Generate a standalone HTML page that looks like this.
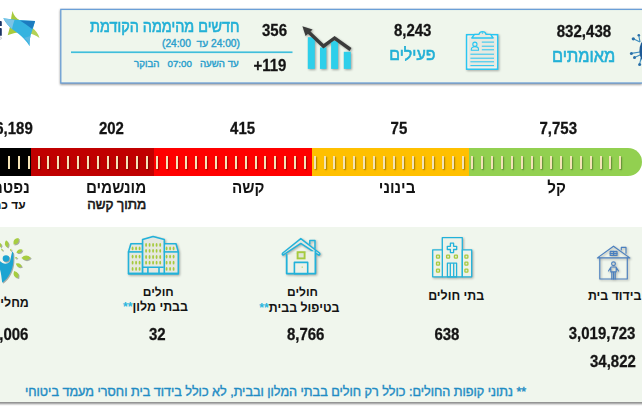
<!DOCTYPE html>
<html lang="he">
<head>
<meta charset="utf-8">
<style>
html,body{margin:0;padding:0;}
body{width:642px;height:410px;overflow:hidden;background:#fff;position:relative;font-family:"Liberation Sans",sans-serif;}
.t{position:absolute;white-space:nowrap;line-height:1;}
.a{position:absolute;}
#panel{position:absolute;left:-10px;top:227px;width:670px;height:175px;background:#f0f6ed;box-shadow:0 2.5px 2px -0.5px rgba(0,0,0,.45);}
.seg{position:absolute;top:147.5px;height:28.5px;}
.tk{position:absolute;top:156px;width:2px;height:13px;background:#f3e3b6;box-shadow:1px 1px 1.5px rgba(0,0,0,.35);}
</style>
</head>
<body>
<!--LOGO-->
<svg class="a" style="left:0;top:0" width="44" height="50" viewBox="0 0 44 50">
  <path d="M0,20.9 h0.8 a1,1 0 0 1 1,1 v4.2 h-1.8 z" fill="#1b3565"/>
  <path d="M0,28.1 h0.8 a1,1 0 0 1 1,1 v6.7 h-1.8 z" fill="#1b3565"/>
  <ellipse cx="0.6" cy="38.2" rx="0.9" ry="1.1" fill="none" stroke="#9aa4b0" stroke-width="0.5"/>
  <path d="M12.6,11 C13.5,15 16,18.5 20.3,20.6 L17.6,32.4 C14,33 10,34 7.7,35.2 C9,31 10.5,25 11,20 C11.3,16 12,13 12.6,11 Z" fill="#a8ca3c"/>
  <path d="M32,27.5 C35.5,30 38.5,34 39.5,37.9 C36,35.5 32.5,34 29.5,33.5 Z" fill="#b4d256"/>
  <path d="M3.3,18.2 C14,19.6 25,20.6 35.1,20.9 C33.5,27 31.5,33 30.5,36 C29.8,39 29.6,42 29.6,46.2 C26.5,41 22,36 14,30.5 C9,27 5.5,22.5 3.3,18.2 Z" fill="#35b3e0"/>
  <path d="M3.3,18.2 C6,18.8 10,19.3 14.5,19.9 C13.5,23 12.5,26 12,29 C8,25.5 5,21.5 3.3,18.2 Z" fill="#7cc4e6"/>
  <path d="M20,20.6 L35.1,20.9 C34,24.5 33,27 32.2,29 C28,26 24,23 20,20.6 Z" fill="#1c7cc0"/>
  <path d="M24,38 C27,40 29,42 29.6,46.2 C29.4,42 29.8,39 30.5,36 Z" fill="#5bb8e2"/>
</svg>

<svg class="a" style="left:0;top:0;filter:drop-shadow(0.6px 1.8px 0.9px rgba(0,0,0,.45))" width="642" height="95" viewBox="0 0 642 95"><rect x="60.8" y="9.4" width="640" height="73.6" fill="#eff6ec" stroke="#6a9fd8" stroke-width="1.3"/></svg>
<svg class="a" style="left:0;top:0" width="300" height="60"><rect x="71" y="51.4" width="221.5" height="1.7" fill="#40bedb"/></svg>

<!--CHART-->
<svg class="a" style="left:295px;top:15px;filter:drop-shadow(1.2px 1.5px 0.8px rgba(0,0,0,.35))" width="65" height="65" viewBox="295 15 65 65">
  <g fill="#2ecfea">
    <rect x="307.8" y="37.2" width="7" height="31.7"/>
    <rect x="320" y="47.5" width="6.4" height="21.4"/>
    <rect x="331.1" y="41.1" width="7" height="27.8"/>
    <rect x="343.8" y="51.8" width="7" height="17.1"/>
  </g>
  <polyline points="307,30.5 323.5,46.2 334.6,38 350.5,49.5" fill="none" stroke="#3b3b3b" stroke-width="3.4" stroke-linejoin="miter"/>
  <polygon points="302.4,26.2 312.6,29.6 305.6,36" fill="#3b3b3b"/>
</svg>

<!--CLIP-->
<svg class="a" style="left:455px;top:20px;filter:drop-shadow(1px 1.5px 0.8px rgba(0,0,0,.3))" width="55" height="55" viewBox="455 20 55 55">
  <rect x="466.6" y="34.7" width="31" height="34.5" fill="#e7e9e0" stroke="#27c6f2" stroke-width="1.5"/>
  <rect x="468" y="36.1" width="28.2" height="31.7" fill="none" stroke="#ffffff" stroke-opacity=".7" stroke-width="0.8"/>
  <path d="M471.8,38 L474.5,34.3 H479 A3.6,3.6 0 0 1 486,34.3 H490.5 L493.2,38 Z" fill="#e7e9e0" stroke="#27c6f2" stroke-width="1.3" stroke-linejoin="round"/>
  <circle cx="482.5" cy="33" r="0.8" fill="#27c6f2"/>
  <circle cx="474.9" cy="44.2" r="2.1" fill="none" stroke="#27c6f2" stroke-width="1.1"/>
  <path d="M471.3,50.2 V49.2 a3.6,2.6 0 0 1 7.2,0 V50.2 Z" fill="none" stroke="#27c6f2" stroke-width="1.1"/>
  <g stroke="#27c6f2" stroke-width="1">
    <line x1="481.8" y1="42.1" x2="494" y2="42.1"/>
    <line x1="481.8" y1="46.2" x2="494" y2="46.2"/>
    <line x1="481.8" y1="49.8" x2="494" y2="49.8"/>
    <line x1="470.4" y1="54.2" x2="494" y2="54.2"/>
    <line x1="470.4" y1="58.2" x2="494" y2="58.2"/>
    <line x1="470.4" y1="61.8" x2="494" y2="61.8"/>
    <line x1="470.4" y1="65.6" x2="494" y2="65.6"/>
  </g>
</svg>

<!--VIRUS-->
<svg class="a" style="left:625px;top:28px" width="17" height="40" viewBox="625 28 17 40">
  <g stroke="#3a8cc0" stroke-width="1.1">
    <line x1="633.3" y1="38.8" x2="640" y2="42"/>
    <line x1="638.8" y1="35.3" x2="640" y2="42"/>
    <line x1="631.4" y1="53.4" x2="640" y2="52"/>
    <line x1="634.5" y1="57.5" x2="640" y2="55"/>
    <line x1="639.6" y1="64.4" x2="641" y2="58"/>
  </g>
  <g fill="#2a6fa8">
    <circle cx="633.3" cy="38.8" r="1.6"/>
    <circle cx="638.8" cy="35.3" r="1.3"/>
    <circle cx="631.4" cy="53.4" r="1.5"/>
    <circle cx="634.5" cy="57.5" r="1.5"/>
    <circle cx="639.6" cy="64.4" r="1.5"/>
    <ellipse cx="645.2" cy="51" rx="5.8" ry="11" fill="#1e5a96"/>
  </g>
</svg>

<!--BAR-->
<div class="seg" style="left:0;width:31px;background:#000;"></div>
<div class="seg" style="left:31px;width:123px;background:#c00000;"></div>
<div class="seg" style="left:154px;width:158px;background:#ff0000;"></div>
<div class="seg" style="left:312px;width:157px;background:#ffc000;"></div>
<div class="seg" style="left:469px;width:173px;background:#92d050;border-radius:0 14.5px 14.5px 0;"></div>
<div class="tk" style="left:8.0px"></div><div class="tk" style="left:17.9px"></div><div class="tk" style="left:27.7px"></div><div class="tk" style="left:37.6px"></div><div class="tk" style="left:47.4px"></div><div class="tk" style="left:57.3px"></div><div class="tk" style="left:67.1px"></div><div class="tk" style="left:77.0px"></div><div class="tk" style="left:86.9px"></div><div class="tk" style="left:96.7px"></div><div class="tk" style="left:106.6px"></div><div class="tk" style="left:116.4px"></div><div class="tk" style="left:126.3px"></div><div class="tk" style="left:136.2px"></div><div class="tk" style="left:146.0px"></div><div class="tk" style="left:155.9px"></div><div class="tk" style="left:165.7px"></div><div class="tk" style="left:175.6px"></div><div class="tk" style="left:185.4px"></div><div class="tk" style="left:195.3px"></div><div class="tk" style="left:205.2px"></div><div class="tk" style="left:215.0px"></div><div class="tk" style="left:224.9px"></div><div class="tk" style="left:234.7px"></div><div class="tk" style="left:244.6px"></div><div class="tk" style="left:254.5px"></div><div class="tk" style="left:264.3px"></div><div class="tk" style="left:274.2px"></div><div class="tk" style="left:284.0px"></div><div class="tk" style="left:293.9px"></div><div class="tk" style="left:303.7px"></div><div class="tk" style="left:313.6px"></div><div class="tk" style="left:323.5px"></div><div class="tk" style="left:333.3px"></div><div class="tk" style="left:343.2px"></div><div class="tk" style="left:353.0px"></div><div class="tk" style="left:362.9px"></div><div class="tk" style="left:372.7px"></div><div class="tk" style="left:382.6px"></div><div class="tk" style="left:392.5px"></div><div class="tk" style="left:402.3px"></div><div class="tk" style="left:412.2px"></div><div class="tk" style="left:422.0px"></div><div class="tk" style="left:431.9px"></div><div class="tk" style="left:441.8px"></div><div class="tk" style="left:451.6px"></div><div class="tk" style="left:461.5px"></div><div class="tk" style="left:471.3px"></div><div class="tk" style="left:481.2px"></div><div class="tk" style="left:491.0px"></div><div class="tk" style="left:500.9px"></div><div class="tk" style="left:510.8px"></div><div class="tk" style="left:520.6px"></div><div class="tk" style="left:530.5px"></div><div class="tk" style="left:540.3px"></div><div class="tk" style="left:550.2px"></div><div class="tk" style="left:560.0px"></div><div class="tk" style="left:569.9px"></div><div class="tk" style="left:579.8px"></div><div class="tk" style="left:589.6px"></div><div class="tk" style="left:599.5px"></div><div class="tk" style="left:609.3px"></div><div class="tk" style="left:619.2px"></div>

<div id="panel"></div>

<!--RECOVERED-->
<svg class="a" style="left:0;top:234px;filter:drop-shadow(1px 1.3px 0.7px rgba(0,0,0,.3))" width="40" height="56" viewBox="0 234 40 56">
  <g fill="#a6cd40"><path transform="translate(16.1 241.2) rotate(38)" d="M0,-4.1 Q4.6,0 0,4.1 Q-4.6,0 0,-4.1 Z"/><path transform="translate(6.7 243.8) rotate(-10)" d="M0,-3.7 Q3.8,0 0,3.7 Q-3.8,0 0,-3.7 Z"/><path transform="translate(19.4 251.1) rotate(62)" d="M0,-3.4 Q3.5,0 0,3.4 Q-3.5,0 0,-3.4 Z"/><path transform="translate(26.1 257.9) rotate(88)" d="M0,-4.7 Q4.6,0 0,4.7 Q-4.6,0 0,-4.7 Z"/><path transform="translate(18.8 265.2) rotate(118)" d="M0,-3.4 Q3.7,0 0,3.4 Q-3.7,0 0,-3.4 Z"/><path transform="translate(16.1 274.5) rotate(150)" d="M0,-4.1 Q4.6,0 0,4.1 Q-4.6,0 0,-4.1 Z"/><path transform="translate(2 249.8) rotate(-40)" d="M0,-1.3 Q1.6,0 0,1.3 Q-1.6,0 0,-1.3 Z"/><path transform="translate(10.7 249.8) rotate(30)" d="M0,-1.3 Q1.6,0 0,1.3 Q-1.6,0 0,-1.3 Z"/><path transform="translate(16.1 257.8) rotate(80)" d="M0,-1.3 Q1.6,0 0,1.3 Q-1.6,0 0,-1.3 Z"/><path transform="translate(0.2 245.5) rotate(10)" d="M0,-2.5 Q2.4,0 0,2.5 Q-2.4,0 0,-2.5 Z"/>
  </g>
  <circle cx="6" cy="258.5" r="3.3" fill="#1ba4d2"/>
  <path d="M12.2,251.6 C13.8,252 13.6,258 13.3,262 C12.6,270 9,278 2.2,282.8 C1.5,278 1.2,273 0,269.5 L0,261 C3,264.5 7,264.5 9.8,261.8 C10.8,259 11.2,255 12.2,251.6 Z" fill="#1ba4d2"/>
</svg>

<!--HOTEL-->
<svg class="a" style="left:120px;top:230px;filter:drop-shadow(1px 1.5px 0.8px rgba(0,0,0,.3))" width="70" height="50" viewBox="120 230 70 50">
  <g fill="#e6e8e0" stroke="#22b2da" stroke-width="1.6" stroke-linejoin="round">
    <path d="M130.9,243.7 H142.6 V273.6 H128.5 V251.9 Z"/>
    <path d="M176,243.7 H163.7 V273.6 H178.3 V251.9 Z"/>
    <path d="M142.6,273.6 V239.6 L153.1,236.5 L164.3,239.6 V273.6 Z"/>
    <line x1="127.9" y1="251.9" x2="142.6" y2="251.9"/>
    <line x1="163.7" y1="251.9" x2="178.9" y2="251.9"/>
    <line x1="127.9" y1="273.6" x2="178.9" y2="273.6"/>
    <path d="M142.6,267.2 H163.7 M147.9,267.2 V273.6 M159,267.2 V273.6" fill="none"/>
  </g>
  <g fill="#a6ca3e"><ellipse cx="146.1" cy="244.9" rx="0.95" ry="1.9"/><ellipse cx="146.1" cy="250.8" rx="0.95" ry="1.9"/><ellipse cx="146.1" cy="257.0" rx="0.95" ry="1.9"/><ellipse cx="146.1" cy="262.7" rx="0.95" ry="1.9"/><ellipse cx="149.6" cy="244.9" rx="0.95" ry="1.9"/><ellipse cx="149.6" cy="250.8" rx="0.95" ry="1.9"/><ellipse cx="149.6" cy="257.0" rx="0.95" ry="1.9"/><ellipse cx="149.6" cy="262.7" rx="0.95" ry="1.9"/><ellipse cx="153.1" cy="244.9" rx="0.95" ry="1.9"/><ellipse cx="153.1" cy="250.8" rx="0.95" ry="1.9"/><ellipse cx="153.1" cy="257.0" rx="0.95" ry="1.9"/><ellipse cx="153.1" cy="262.7" rx="0.95" ry="1.9"/><ellipse cx="156.6" cy="244.9" rx="0.95" ry="1.9"/><ellipse cx="156.6" cy="250.8" rx="0.95" ry="1.9"/><ellipse cx="156.6" cy="257.0" rx="0.95" ry="1.9"/><ellipse cx="156.6" cy="262.7" rx="0.95" ry="1.9"/><ellipse cx="160.2" cy="244.9" rx="0.95" ry="1.9"/><ellipse cx="160.2" cy="250.8" rx="0.95" ry="1.9"/><ellipse cx="160.2" cy="257.0" rx="0.95" ry="1.9"/><ellipse cx="160.2" cy="262.7" rx="0.95" ry="1.9"/><ellipse cx="132.6" cy="248.4" rx="0.95" ry="1.9"/><ellipse cx="132.6" cy="256.6" rx="0.95" ry="1.9"/><ellipse cx="132.6" cy="262.7" rx="0.95" ry="1.9"/><ellipse cx="132.6" cy="268.9" rx="0.95" ry="1.9"/><ellipse cx="136.1" cy="248.4" rx="0.95" ry="1.9"/><ellipse cx="136.1" cy="256.6" rx="0.95" ry="1.9"/><ellipse cx="136.1" cy="262.7" rx="0.95" ry="1.9"/><ellipse cx="136.1" cy="268.9" rx="0.95" ry="1.9"/><ellipse cx="139.6" cy="248.4" rx="0.95" ry="1.9"/><ellipse cx="139.6" cy="256.6" rx="0.95" ry="1.9"/><ellipse cx="139.6" cy="262.7" rx="0.95" ry="1.9"/><ellipse cx="139.6" cy="268.9" rx="0.95" ry="1.9"/><ellipse cx="166.6" cy="248.4" rx="0.95" ry="1.9"/><ellipse cx="166.6" cy="256.6" rx="0.95" ry="1.9"/><ellipse cx="166.6" cy="262.7" rx="0.95" ry="1.9"/><ellipse cx="166.6" cy="268.9" rx="0.95" ry="1.9"/><ellipse cx="170.1" cy="248.4" rx="0.95" ry="1.9"/><ellipse cx="170.1" cy="256.6" rx="0.95" ry="1.9"/><ellipse cx="170.1" cy="262.7" rx="0.95" ry="1.9"/><ellipse cx="170.1" cy="268.9" rx="0.95" ry="1.9"/><ellipse cx="173.6" cy="248.4" rx="0.95" ry="1.9"/><ellipse cx="173.6" cy="256.6" rx="0.95" ry="1.9"/><ellipse cx="173.6" cy="262.7" rx="0.95" ry="1.9"/><ellipse cx="173.6" cy="268.9" rx="0.95" ry="1.9"/></g>
</svg>

<!--HOME-->
<svg class="a" style="left:275px;top:232px;filter:drop-shadow(1px 1.5px 0.8px rgba(0,0,0,.3))" width="50" height="48" viewBox="275 232 50 48">
  <g fill="none" stroke="#22b2da" stroke-linejoin="round" stroke-linecap="round">
    <path d="M282.8,253 L300.8,238.6 L319.4,253 Q320.5,254.5 318.8,255.2 L300.8,243.4 L283,255.2 Q281.6,254.4 282.8,253 Z" stroke-width="1.5" fill="#e6e8e0"/>
    <path d="M309.8,244 V240.4 H315 V248.2" stroke-width="1.5"/>
    <path d="M286.7,255 V273.6 H315.4 V251" stroke-width="1.8" fill="#eef2e8"/>
    <rect x="294.4" y="262.4" width="13.3" height="11.2" stroke-width="1.6" fill="#eef2e8"/>
  </g>
  <rect x="297.6" y="252.2" width="7" height="6.2" fill="#e0e6d8" stroke="#a6ca3e" stroke-width="1.9"/>
  <circle cx="302.2" cy="267.1" r="0.7" fill="#a6ca3e"/>
</svg>

<!--HOSPITAL-->
<svg class="a" style="left:428px;top:232px;filter:drop-shadow(1px 1.5px 0.8px rgba(0,0,0,.3))" width="50" height="48" viewBox="428 232 50 48">
  <g fill="none" stroke="#22b2da" stroke-width="1.3" stroke-linejoin="round">
    <rect x="442.3" y="237.6" width="20" height="39.2" fill="#eef2e8"/>
    <rect x="432.7" y="249.8" width="9.6" height="27" fill="#eef2e8"/>
    <rect x="462.3" y="249.8" width="9.4" height="27" fill="#eef2e8"/>
    <path d="M450.4,243.2 h3.2 v3.1 h3.1 v3.2 h-3.1 v3.1 h-3.2 v-3.1 h-3.1 v-3.2 h3.1 z"/>
    <rect x="447.4" y="263.2" width="9.2" height="13.6"/>
    <path d="M450.3,263.2 V276.8 M453.7,263.2 V276.8"/>
  </g>
  <g fill="#e4ead8" stroke="#a6ca3e" stroke-width="1.3"><rect x="436.5" y="255.1" width="3" height="3" rx="0.7"/><rect x="436.5" y="262.1" width="3" height="3" rx="0.7"/><rect x="436.5" y="269.1" width="3" height="3" rx="0.7"/><rect x="464.9" y="255.1" width="3" height="3" rx="0.7"/><rect x="464.9" y="262.1" width="3" height="3" rx="0.7"/><rect x="464.9" y="269.1" width="3" height="3" rx="0.7"/><rect x="446.6" y="255.1" width="3" height="3" rx="0.7"/><rect x="454.4" y="255.1" width="3" height="3" rx="0.7"/></g>
</svg>

<!--ISOLATION-->
<svg class="a" style="left:590px;top:240px;filter:drop-shadow(1px 1.5px 0.8px rgba(0,0,0,.3))" width="44" height="44" viewBox="590 240 44 44">
  <g fill="none" stroke="#4a7fbf" stroke-width="1.15" stroke-linejoin="round" stroke-linecap="round">
    <path d="M597.4,257.9 L613.5,246.2 L629.8,257.9 Z"/>
    <path d="M621.3,249.8 V247.4 H626 V253.2"/>
    <rect x="610.2" y="251.4" width="6.8" height="4" />
    <path d="M613.6,251.4 V255.4 M610.2,253.4 H617"/>
    <path d="M599.8,257.9 V279 H627.3 V257.9"/>
    <circle cx="613.5" cy="263.8" r="1.9"/>
    <path d="M611,267 H616 L618.5,271 M611,267 L608.5,271 M610.8,267.2 V271.8 H616.2 V267.2 M611.8,271.8 V279 M615.2,271.8 V279 M613.5,272 V279"/>
  </g>
</svg>

<div class="t" style="left:90.0px;top:17.6px;font-size:14.42px;font-weight:normal;color:#22b0d6;direction:rtl;transform:scaleY(1.15);transform-origin:0 0;-webkit-text-stroke:0.55px #22b0d6;">חדשים מהיממה הקודמת</div>
<div class="t" style="left:162.0px;top:38.5px;font-size:10.20px;font-weight:normal;color:#2a9fcc;direction:ltr;-webkit-text-stroke:0.4px #2a9fcc;">(24:00&nbsp; <span dir="rtl">עד</span> 24:00)</div>
<div class="t" style="left:134.0px;top:59.0px;font-size:9.73px;font-weight:normal;color:#2a9fcc;direction:rtl;-webkit-text-stroke:0.4px #2a9fcc;">עד השעה&nbsp;&nbsp; 07:00&nbsp;&nbsp; הבוקר</div>
<div class="t" style="left:262.0px;top:21.7px;font-size:15.00px;font-weight:bold;color:#141414;direction:ltr;transform:scaleY(1.06);transform-origin:0 0;-webkit-text-stroke:0.25px #141414;">356</div>
<div class="t" style="left:253.4px;top:56.9px;font-size:15.00px;font-weight:bold;color:#141414;direction:ltr;transform:scaleY(1.06);transform-origin:0 0;-webkit-text-stroke:0.25px #141414;">+119</div>
<div class="t" style="left:393.9px;top:22.3px;font-size:15.00px;font-weight:bold;color:#141414;direction:ltr;transform:scaleY(1.06);transform-origin:0 0;-webkit-text-stroke:0.25px #141414;">8,243</div>
<div class="t" style="left:389.3px;top:46.1px;font-size:15.89px;font-weight:normal;color:#22b0d6;direction:rtl;transform:scaleY(1.08);transform-origin:0 0;-webkit-text-stroke:0.55px #22b0d6;">פעילים</div>
<div class="t" style="left:556.7px;top:23.4px;font-size:15.10px;font-weight:bold;color:#141414;direction:ltr;transform:scaleY(1.06);transform-origin:0 0;-webkit-text-stroke:0.25px #141414;">832,438</div>
<div class="t" style="left:552.0px;top:45.6px;font-size:16.38px;font-weight:normal;color:#22b0d6;direction:rtl;transform:scaleY(1.16);transform-origin:0 0;-webkit-text-stroke:0.55px #22b0d6;">מאומתים</div>
<div class="t" style="left:-4.8px;top:120.3px;font-size:15.00px;font-weight:bold;color:#141414;direction:ltr;transform:scaleY(1.1);transform-origin:0 0;-webkit-text-stroke:0.25px #141414;">6,189</div>
<div class="t" style="left:98.9px;top:120.3px;font-size:15.00px;font-weight:bold;color:#141414;direction:ltr;transform:scaleY(1.1);transform-origin:0 0;-webkit-text-stroke:0.25px #141414;">202</div>
<div class="t" style="left:230.1px;top:120.4px;font-size:15.00px;font-weight:bold;color:#141414;direction:ltr;transform:scaleY(1.1);transform-origin:0 0;-webkit-text-stroke:0.25px #141414;">415</div>
<div class="t" style="left:390.6px;top:120.4px;font-size:15.00px;font-weight:bold;color:#141414;direction:ltr;transform:scaleY(1.1);transform-origin:0 0;-webkit-text-stroke:0.25px #141414;">75</div>
<div class="t" style="left:539.5px;top:120.4px;font-size:15.00px;font-weight:bold;color:#141414;direction:ltr;transform:scaleY(1.1);transform-origin:0 0;-webkit-text-stroke:0.25px #141414;">7,753</div>
<div class="t" style="left:-21.2px;top:179.0px;font-size:15.20px;font-weight:bold;color:#141414;direction:rtl;transform:scaleY(1.1);transform-origin:0 0;">נפטרים</div>
<div class="t" style="left:-6.8px;top:199.3px;font-size:12.00px;font-weight:bold;color:#141414;direction:rtl;">עד כה</div>
<div class="t" style="left:85.9px;top:179.0px;font-size:15.20px;font-weight:bold;color:#141414;direction:rtl;transform:scaleY(1.1);transform-origin:0 0;">מונשמים</div>
<div class="t" style="left:87.2px;top:197.5px;font-size:13.40px;font-weight:normal;color:#141414;direction:rtl;-webkit-text-stroke:0.55px #141414;">מתוך קשה</div>
<div class="t" style="left:232.1px;top:179.0px;font-size:15.20px;font-weight:bold;color:#141414;direction:rtl;transform:scaleY(1.1);transform-origin:0 0;">קשה</div>
<div class="t" style="left:378.8px;top:179.0px;font-size:15.20px;font-weight:bold;color:#141414;direction:rtl;transform:scaleY(1.1);transform-origin:0 0;">בינוני</div>
<div class="t" style="left:547.3px;top:179.0px;font-size:15.20px;font-weight:bold;color:#141414;direction:rtl;transform:scaleY(1.1);transform-origin:0 0;">קל</div>
<div class="t" style="left:-20.8px;top:297.0px;font-size:12.40px;font-weight:bold;color:#141414;direction:rtl;">מחלימים</div>
<div class="t" style="left:-9.1px;top:325.8px;font-size:15.00px;font-weight:bold;color:#141414;direction:ltr;transform:scaleY(1.08);transform-origin:0 0;-webkit-text-stroke:0.25px #141414;">6,006</div>
<div class="t" style="left:142.8px;top:285.8px;font-size:12.00px;font-weight:bold;color:#141414;direction:rtl;">חולים</div>
<div class="t" style="left:122.9px;top:300.8px;font-size:12.40px;font-weight:bold;color:#141414;direction:rtl;">בבתי מלון<span style="color:#2bb5dd">**</span></div>
<div class="t" style="left:149.0px;top:325.8px;font-size:15.00px;font-weight:bold;color:#141414;direction:ltr;transform:scaleY(1.08);transform-origin:0 0;-webkit-text-stroke:0.25px #141414;">32</div>
<div class="t" style="left:287.0px;top:285.7px;font-size:12.00px;font-weight:bold;color:#141414;direction:rtl;">חולים</div>
<div class="t" style="left:259.2px;top:302.1px;font-size:12.40px;font-weight:bold;color:#141414;direction:rtl;">בטיפול בבית<span style="color:#2bb5dd">**</span></div>
<div class="t" style="left:286.9px;top:325.8px;font-size:15.00px;font-weight:bold;color:#141414;direction:ltr;transform:scaleY(1.08);transform-origin:0 0;-webkit-text-stroke:0.25px #141414;">8,766</div>
<div class="t" style="left:428.2px;top:290.1px;font-size:12.40px;font-weight:bold;color:#141414;direction:rtl;">בתי חולים</div>
<div class="t" style="left:434.4px;top:325.8px;font-size:15.00px;font-weight:bold;color:#141414;direction:ltr;transform:scaleY(1.08);transform-origin:0 0;-webkit-text-stroke:0.25px #141414;">638</div>
<div class="t" style="left:587.9px;top:289.5px;font-size:12.40px;font-weight:bold;color:#141414;direction:rtl;">בידוד בית</div>
<div class="t" style="left:568.7px;top:324.7px;font-size:15.00px;font-weight:bold;color:#141414;direction:ltr;transform:scaleY(1.08);transform-origin:0 0;-webkit-text-stroke:0.25px #141414;">3,019,723</div>
<div class="t" style="left:590.0px;top:353.4px;font-size:15.00px;font-weight:bold;color:#141414;direction:ltr;transform:scaleY(1.08);transform-origin:0 0;-webkit-text-stroke:0.25px #141414;">34,822</div>
<div class="t" style="left:25.0px;top:386.1px;font-size:12.64px;font-weight:normal;color:#1f8cc4;direction:rtl;-webkit-text-stroke:0.4px #1f8cc4;">** נתוני קופות החולים: כולל רק חולים בבתי המלון ובבית, לא כולל בידוד בית וחסרי מעמד ביטוחי</div>
</body>
</html>
